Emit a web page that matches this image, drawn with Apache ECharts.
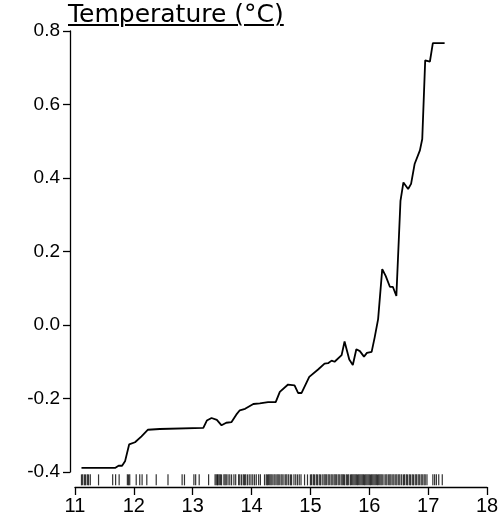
<!DOCTYPE html>
<html>
<head>
<meta charset="utf-8">
<script src="https://cdn.jsdelivr.net/npm/echarts@6/dist/echarts.min.js"></script>
<style>
  body { margin: 0; background: #fff; }
  #wrap { position: relative; width: 502px; height: 528px; }
  #chart { width: 502px; height: 528px; }
  #title { position: absolute; left: 68px; top: -1px; font-family: "DejaVu Sans", sans-serif; font-size: 25px; text-decoration: underline; text-decoration-thickness: 1.5px; text-underline-offset: 2px; color: #000; }
</style>
</head>
<body>
<div id="wrap">
  <div id="chart"></div>
  <div id="title">Temperature (°C)</div>
</div>
<script>
// partial dependence curve
let temp = [11.11, 11.68, 11.74, 11.80, 11.85, 11.92, 12.02, 12.13, 12.24, 12.44, 13.18, 13.24, 13.32, 13.41, 13.49, 13.57, 13.66, 13.74, 13.80, 13.89, 14.03, 14.14, 14.28, 14.41, 14.48, 14.62, 14.73, 14.79, 14.85, 14.98, 15.13, 15.24, 15.30, 15.36, 15.41, 15.53, 15.58, 15.66, 15.72, 15.78, 15.84, 15.91, 15.96, 16.04, 16.09, 16.15, 16.22, 16.28, 16.35, 16.40, 16.46, 16.53, 16.58, 16.66, 16.71, 16.77, 16.86, 16.90, 16.95, 17.03, 17.08, 17.28]
let effect = [-0.389, -0.389, -0.383, -0.383, -0.371, -0.325, -0.319, -0.303, -0.285, -0.283, -0.280, -0.260, -0.253, -0.258, -0.273, -0.266, -0.264, -0.244, -0.232, -0.228, -0.215, -0.213, -0.210, -0.210, -0.182, -0.162, -0.164, -0.185, -0.185, -0.141, -0.121, -0.105, -0.104, -0.097, -0.100, -0.082, -0.045, -0.094, -0.109, -0.066, -0.071, -0.086, -0.076, -0.073, -0.035, 0.016, 0.152, 0.133, 0.104, 0.104, 0.079, 0.338, 0.388, 0.370, 0.384, 0.438, 0.475, 0.506, 0.720, 0.717, 0.767, 0.767]
// rug of observed temperatures
let rug = [11.11, 11.13, 11.16, 11.18, 11.21, 11.23, 11.26, 11.40, 11.64, 11.69, 11.75, 11.89, 11.91, 11.93, 12.04, 12.10, 12.14, 12.22, 12.38, 12.58, 12.82, 12.86, 13.02, 13.05, 13.11, 13.27,
  13.38, 13.40, 13.42, 13.43, 13.45, 13.47, 13.49, 13.53, 13.55, 13.57, 13.60, 13.63, 13.66, 13.70, 13.73, 13.78, 13.80, 13.83, 13.86, 13.88, 13.90, 13.93, 13.96, 13.99, 14.02, 14.05, 14.08, 14.12, 14.15, 14.22, 14.25, 14.27, 14.29, 14.31, 14.33, 14.35, 14.38, 14.40, 14.43, 14.45, 14.47, 14.50, 14.52, 14.55, 14.58, 14.60, 14.63, 14.66, 14.68, 14.72, 14.75, 14.78, 14.81, 14.84, 14.90, 14.95, 15.00, 15.02, 15.05, 15.07, 15.10, 15.12, 15.15, 15.17, 15.20, 15.23, 15.25, 15.27, 15.30, 15.32, 15.35, 15.37, 15.40, 15.42, 15.44, 15.47, 15.49, 15.52, 15.54, 15.56, 15.58, 15.61, 15.63, 15.65, 15.68, 15.70, 15.72, 15.74, 15.76, 15.78, 15.80, 15.82, 15.84, 15.86, 15.88, 15.90, 15.92, 15.94, 15.96, 15.98, 16.00, 16.02, 16.04, 16.06, 16.08, 16.10, 16.12, 16.14, 16.16, 16.18, 16.20, 16.22, 16.25, 16.28, 16.30, 16.33, 16.35, 16.37, 16.40, 16.42, 16.45, 16.47, 16.50, 16.52, 16.55, 16.58, 16.60, 16.63, 16.65, 16.68, 16.70, 16.73, 16.75, 16.78, 16.80, 16.83, 16.85, 16.88, 16.90, 16.93, 16.95, 16.98,
  17.08, 17.11, 17.14, 17.18, 17.24]
let xTicks = [11, 12, 13, 14, 15, 16, 17, 18]
let yTicks = [-0.4, -0.2, 0.0, 0.2, 0.4, 0.6, 0.8]

let chart = echarts.init(document.getElementById('chart'))
let font = 'Arial, "Liberation Sans", sans-serif'
let option = {
  animation: false,
  grid: [
    {left: 75, right: 15, top: 31, height: 441},
    {left: 75, right: 15, top: 474, height: 13}
  ],
  xAxis: [
    {gridIndex: 0, type: 'value', min: 11, max: 18, show: false},
    {gridIndex: 1, type: 'value', min: 11, max: 18, interval: 1,
      axisLine: {show: true, lineStyle: {color: '#000', width: 1.3}},
      axisTick: {show: true, length: 8, lineStyle: {color: '#000', width: 1.3}},
      axisLabel: {color: '#000', fontSize: 20, fontFamily: font, margin: 9},
      splitLine: {show: false}}
  ],
  yAxis: [
    {gridIndex: 0, type: 'value', min: -0.4, max: 0.8, interval: 0.2, offset: 5,
      axisLine: {show: true, lineStyle: {color: '#000', width: 1.3}},
      axisTick: {show: true, length: 7, lineStyle: {color: '#000', width: 1.3}},
      axisLabel: {color: '#000', fontSize: 19, fontFamily: font, margin: 10,
        formatter: v => v.toFixed(1)},
      splitLine: {show: false}},
    {gridIndex: 1, type: 'value', min: 0, max: 1, show: false}
  ],
  series: [
    {type: 'line', xAxisIndex: 0, yAxisIndex: 0, symbol: 'none',
      lineStyle: {color: '#000', width: 1.8},
      data: temp.map((t, i) => [t, effect[i]])},
    {type: 'scatter', xAxisIndex: 1, yAxisIndex: 1, symbol: 'rect', symbolSize: [1.2, 11],
      itemStyle: {color: '#000'}, silent: true,
      data: rug.map(t => [t, 0.55])}
  ]
}
chart.setOption(option)
</script>
</body>
</html>
